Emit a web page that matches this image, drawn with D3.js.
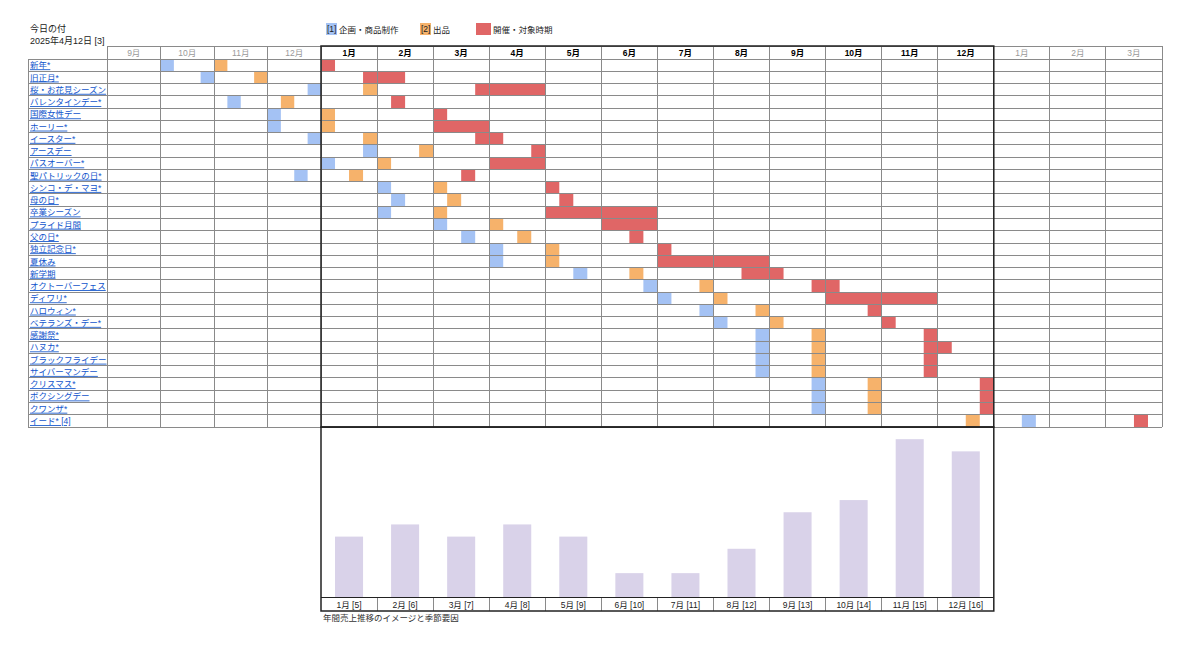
<!DOCTYPE html>
<html>
<head>
<meta charset="utf-8">
<script src="https://cdn.jsdelivr.net/npm/d3@7"></script>
<style>
  body { margin: 0; background: #fff; }
  svg { display: block; font-family: "Liberation Sans", "Noto Sans CJK JP", sans-serif; }
</style>
</head>
<body>
<div id="chart"></div>
<script>
// 月ヘッダー（前年9月〜翌年3月）
const monthLabels = ['9月', '10月', '11月', '12月', '1月', '2月', '3月', '4月', '5月', '6月',
  '7月', '8月', '9月', '10月', '11月', '12月', '1月', '2月', '3月']
const mainMonths = d3.range(4, 16) // 太字で囲まれた当年

const eventNames = ['新年*', '旧正月*', '桜・お花見シーズン', 'バレンタインデー*', '国際女性デー', 'ホーリー*',
  'イースター*', 'アースデー', 'パスオーバー*', '聖パトリックの日*', 'シンコ・デ・マヨ*', '母の日*',
  '卒業シーズン', 'プライド月間', '父の日*', '独立記念日*', '夏休み', '新学期', 'オクトーバーフェス',
  'ディワリ*', 'ハロウィン*', 'ベテランズ・デー*', '感謝祭*', 'ハヌカ*', 'ブラックフライデー',
  'サイバーマンデー', 'クリスマス*', 'ボクシングデー', 'クワンザ*', 'イード* [4]']

// 週スロット（1か月=4スロット, 0=前年9月第1週）
const planSlot = [4, 7, 15, 9, 12, 12, 15, 19, 16, 14, 20, 21, 20, 24, 26, 28, 28, 34, 39, 40, 43, 44, 47, 47, 47, 47, 51, 51, 51, 66]
const listSlot = [8, 11, 19, 13, 16, 16, 19, 23, 20, 18, 24, 25, 24, 28, 30, 32, 32, 38, 43, 44, 47, 48, 51, 51, 51, 51, 55, 55, 55, 62]
const activeStart = [16, 19, 27, 21, 24, 24, 27, 31, 28, 26, 32, 33, 32, 36, 38, 40, 40, 46, 51, 52, 55, 56, 59, 59, 59, 59, 63, 63, 63, 74]
const activeEnd = [16, 21, 31, 21, 24, 27, 28, 31, 31, 26, 32, 33, 39, 39, 38, 40, 47, 48, 52, 59, 55, 56, 59, 60, 59, 59, 63, 63, 63, 74]

// 年間売上イメージ
const salesMonths = ['1月 [5]', '2月 [6]', '3月 [7]', '4月 [8]', '5月 [9]', '6月 [10]',
  '7月 [11]', '8月 [12]', '9月 [13]', '10月 [14]', '11月 [15]', '12月 [16]']
const salesValues = [5, 6, 5, 6, 5, 2, 2, 4, 7, 8, 13, 12]

const legendItems = [
  { tag: '[1]', label: '企画・商品制作', color: '#a4c2f4' },
  { tag: '[2]', label: '出品', color: '#f6b26b' },
  { tag: '', label: '開催・対象時期', color: '#e06666' }
]

const width = 1200
const height = 662
const gridColor = '#8a8a8a'

const svg = d3.select('#chart').append('svg')
  .attr('width', width)
  .attr('height', height)

// 前年の4か月は列幅が少し狭い
const x = d3.scaleLinear().domain([0, 16, 76]).range([107, 321, 1162])
const y = d3.scaleBand().domain(d3.range(eventNames.length)).range([59, 427])
const headerTop = 46
const labelLeft = 28

// 左上テキスト
svg.append('text').attr('x', 30).attr('y', 32).attr('font-size', 9).attr('fill', '#222').text('今日の付')
svg.append('text').attr('x', 30).attr('y', 44).attr('font-size', 9).attr('fill', '#222').text('2025年4月12日 [3]')

// 凡例
const legendX = [326, 420, 476]
const legend = svg.append('g').selectAll('g')
  .data(legendItems)
  .join('g')
  .attr('transform', (d, i) => `translate(${legendX[i]},23)`)
legend.append('rect')
  .attr('width', (d, i) => i === 2 ? 15 : 11)
  .attr('height', 12)
  .attr('fill', d => d.color)
legend.append('text')
  .attr('x', 1).attr('y', 9)
  .attr('font-size', 8.5).attr('fill', '#222')
  .text(d => d.tag)
legend.append('text')
  .attr('x', (d, i) => i === 2 ? 17 : 13).attr('y', 9.5)
  .attr('font-size', 8.5).attr('fill', '#222')
  .text(d => d.label)

// 月ヘッダー
svg.append('g').selectAll('text')
  .data(monthLabels)
  .join('text')
  .attr('x', (d, i) => (x(i * 4) + x(i * 4 + 4)) / 2)
  .attr('y', headerTop + 10)
  .attr('text-anchor', 'middle')
  .attr('font-size', 8.5)
  .attr('font-weight', (d, i) => mainMonths.includes(i) ? 'bold' : 'normal')
  .attr('fill', (d, i) => mainMonths.includes(i) ? '#000' : '#999')
  .text(d => d)

// セル（企画・出品・開催）
const cells = svg.append('g')
const slotRect = (sel, endOf, color) => sel
  .attr('x', d => x(d))
  .attr('width', (d, i) => x(endOf(d, i) + 1) - x(d))
  .attr('y', (d, i) => y(i))
  .attr('height', y.bandwidth())
  .attr('fill', color)

cells.append('g').selectAll('rect').data(planSlot).join('rect')
  .call(slotRect, d => d, legendItems[0].color)
cells.append('g').selectAll('rect').data(listSlot).join('rect')
  .call(slotRect, d => d, legendItems[1].color)
cells.append('g').selectAll('rect').data(activeStart).join('rect')
  .call(slotRect, (d, i) => activeEnd[i], legendItems[2].color)

// グリッド
const grid = svg.append('g').attr('stroke', gridColor).attr('stroke-width', 1).attr('shape-rendering', 'crispEdges')
const rowEdges = d3.range(eventNames.length).map(i => y(i)).concat([y.range()[1]])
grid.selectAll('line.h')
  .data(rowEdges)
  .join('line')
  .attr('class', 'h')
  .attr('x1', labelLeft).attr('x2', x(76))
  .attr('y1', d => d).attr('y2', d => d)
grid.append('line').attr('x1', x(0)).attr('x2', x(76)).attr('y1', headerTop).attr('y2', headerTop)
grid.selectAll('line.v')
  .data(d3.range(monthLabels.length + 1))
  .join('line')
  .attr('class', 'v')
  .attr('x1', i => x(i * 4)).attr('x2', i => x(i * 4))
  .attr('y1', headerTop).attr('y2', y.range()[1])
grid.append('line').attr('x1', labelLeft).attr('x2', labelLeft).attr('y1', y.range()[0]).attr('y2', y.range()[1])

// イベント名
svg.append('g').selectAll('text')
  .data(eventNames)
  .join('text')
  .attr('x', labelLeft + 2)
  .attr('y', (d, i) => y(i) + y.bandwidth() - 3)
  .attr('font-size', 8.5)
  .attr('fill', '#1155cc')
  .attr('text-decoration', 'underline')
  .text(d => d)

// 当年の太枠
svg.append('rect')
  .attr('x', x(16)).attr('y', headerTop)
  .attr('width', x(64) - x(16)).attr('height', y.range()[1] - headerTop)
  .attr('fill', 'none').attr('stroke', '#222').attr('stroke-width', 1.5)

// 売上チャート
const chartTop = 427
const chartBase = 597.5
const chartBottom = 611
const xb = d3.scaleBand().domain(salesMonths).range([x(16), x(64)]).paddingInner(0.5).paddingOuter(0.25)
const xc = d3.scaleBand().domain(salesMonths).range([x(16), x(64)])
const yb = d3.scaleLinear().domain([0, 14]).range([chartBase, chartTop])

svg.append('g').selectAll('rect')
  .data(salesValues)
  .join('rect')
  .attr('x', (d, i) => xb(salesMonths[i]))
  .attr('width', xb.bandwidth())
  .attr('y', d => yb(d))
  .attr('height', d => yb(0) - yb(d))
  .attr('fill', '#d9d2e9')

const axis = svg.append('g')
axis.append('line')
  .attr('x1', x(16)).attr('x2', x(64))
  .attr('y1', chartBase).attr('y2', chartBase)
  .attr('stroke', '#222').attr('stroke-width', 1)
axis.selectAll('line.tick')
  .data(salesMonths.slice(1))
  .join('line')
  .attr('class', 'tick')
  .attr('x1', d => xc(d)).attr('x2', d => xc(d))
  .attr('y1', chartBase).attr('y2', chartBottom)
  .attr('stroke', gridColor).attr('shape-rendering', 'crispEdges')
axis.selectAll('text')
  .data(salesMonths)
  .join('text')
  .attr('x', d => xc(d) + xc.bandwidth() / 2)
  .attr('y', chartBase + 10)
  .attr('text-anchor', 'middle')
  .attr('font-size', 8.5)
  .attr('fill', '#222')
  .text(d => d)

svg.append('rect')
  .attr('x', x(16)).attr('y', chartTop)
  .attr('width', x(64) - x(16)).attr('height', chartBottom - chartTop)
  .attr('fill', 'none').attr('stroke', '#222').attr('stroke-width', 1.5)

svg.append('text')
  .attr('x', x(16) + 2).attr('y', 621)
  .attr('font-size', 8.5).attr('fill', '#333')
  .text('年間売上推移のイメージと季節要因')
</script>
</body>
</html>
